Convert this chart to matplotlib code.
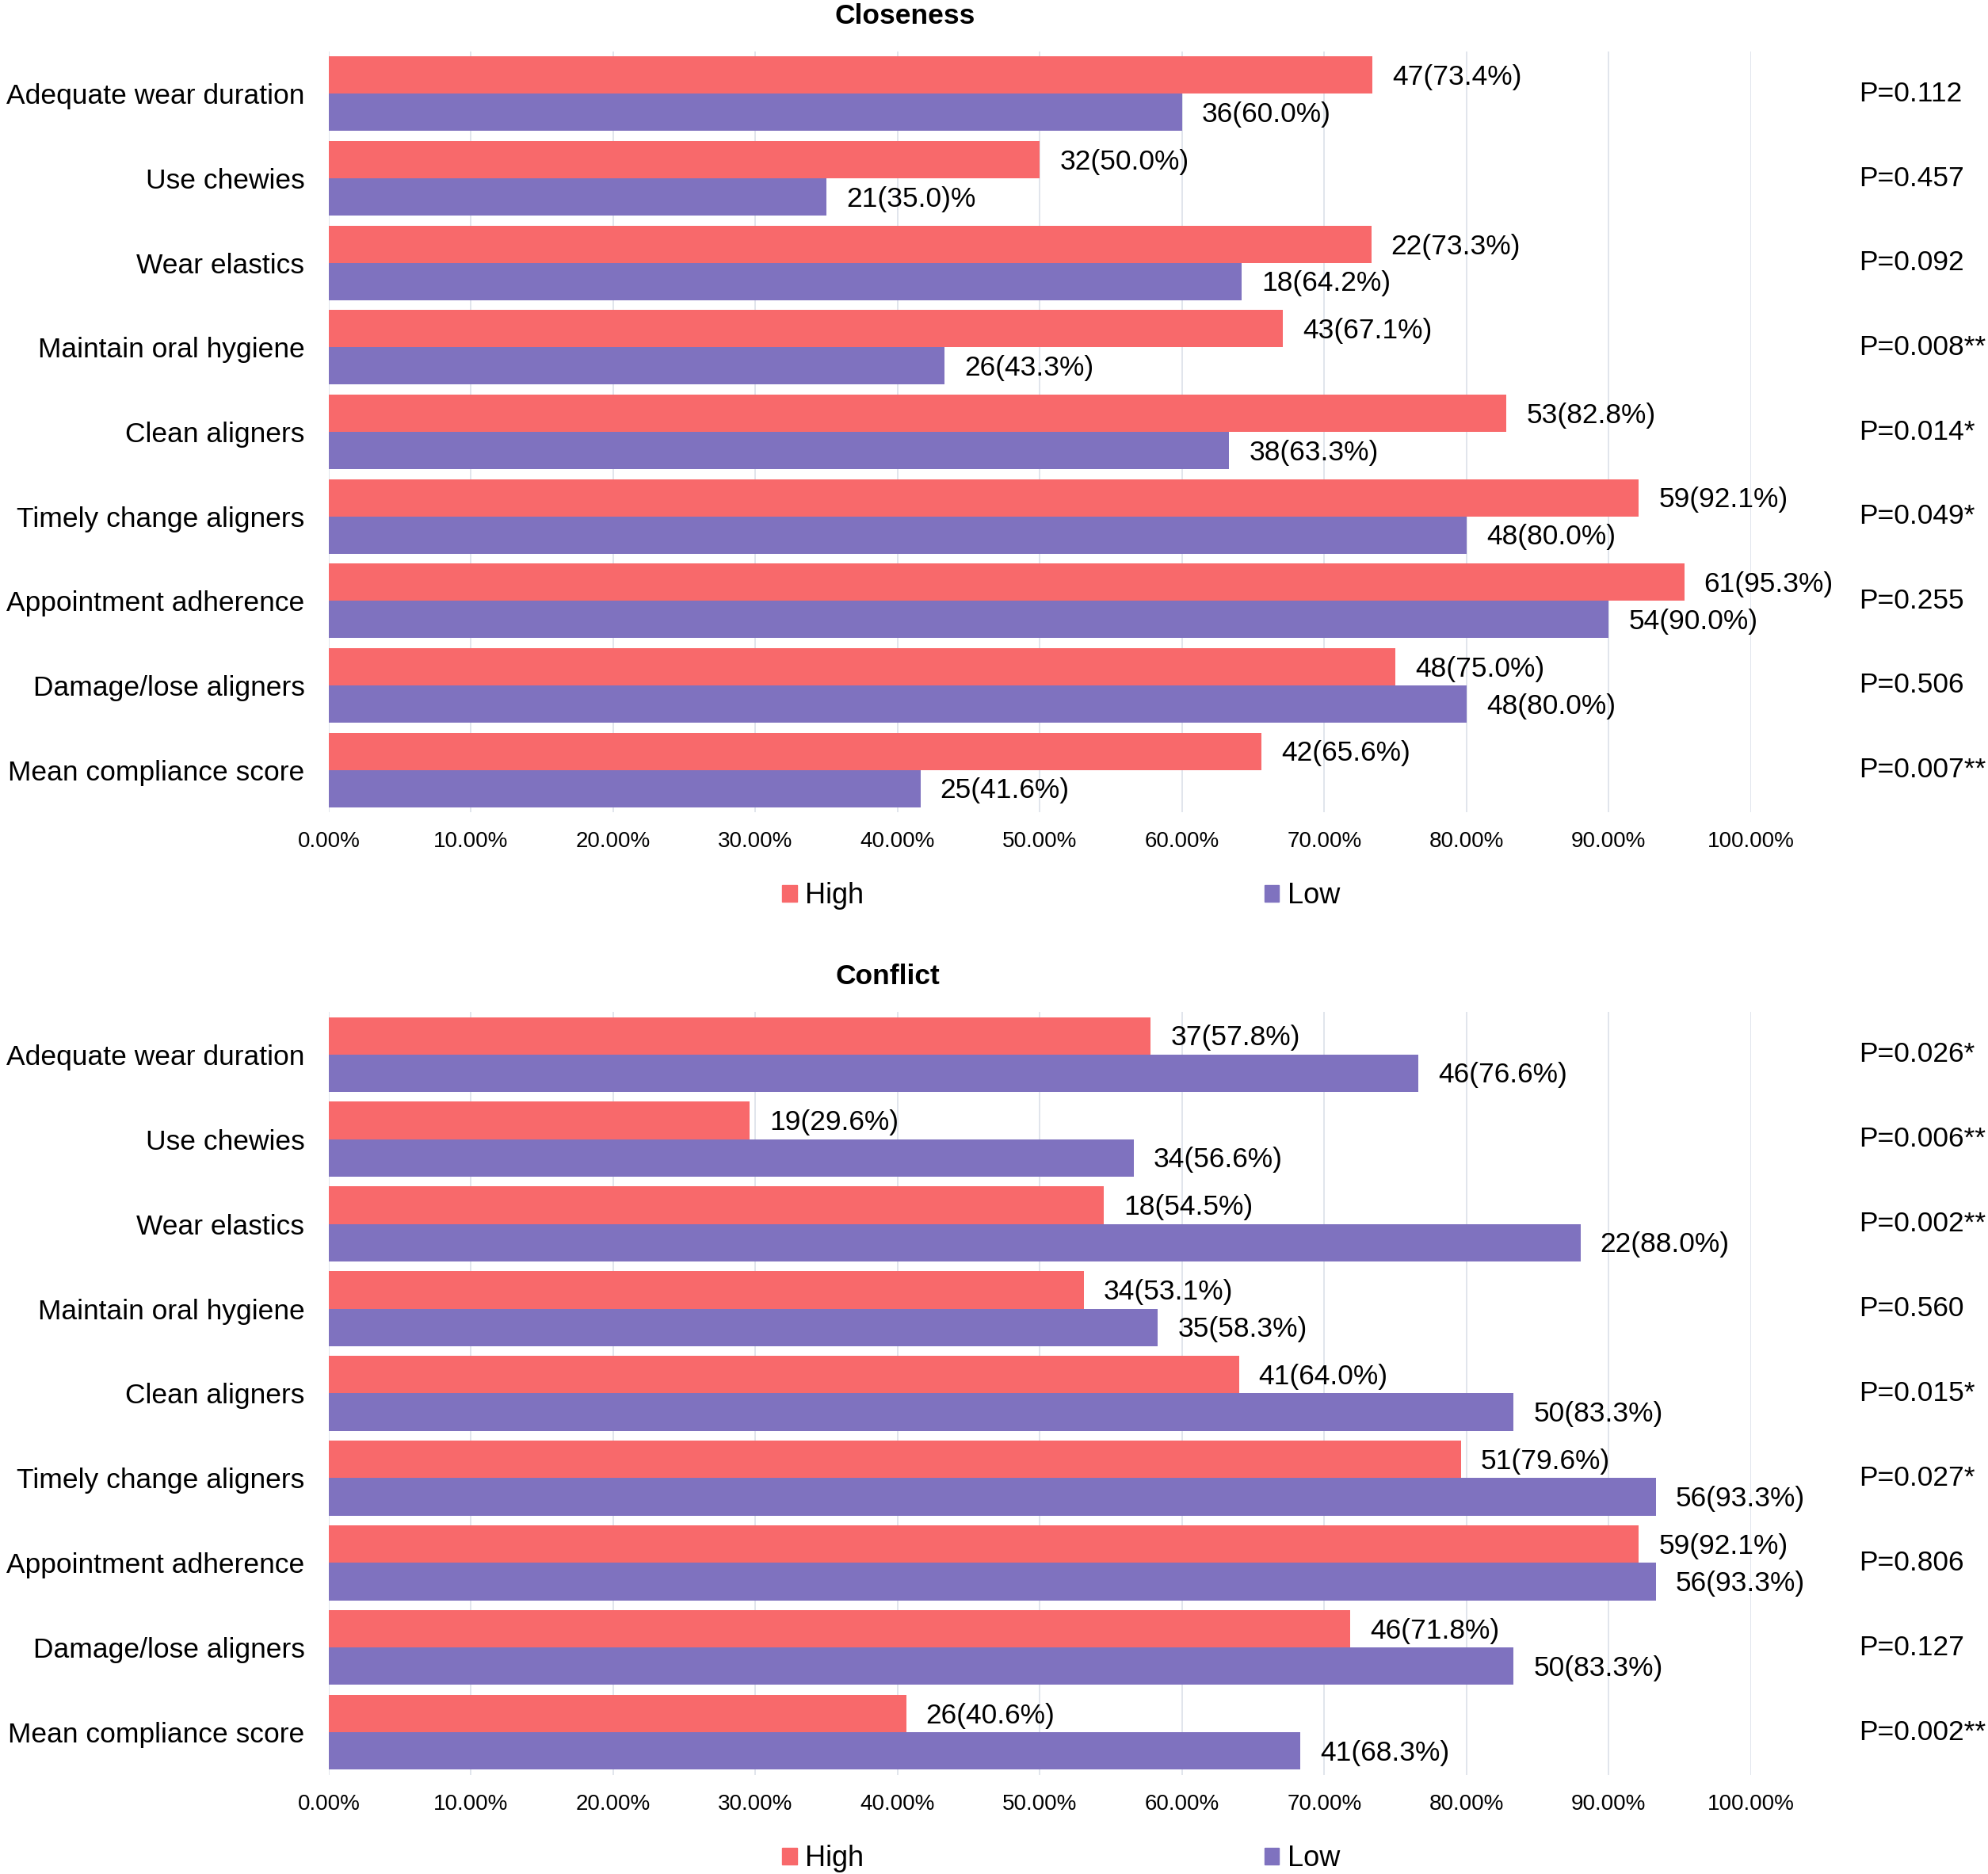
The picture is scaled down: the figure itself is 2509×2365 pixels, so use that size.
import matplotlib
matplotlib.use("Agg")
import matplotlib.pyplot as plt
from matplotlib.patches import Patch
import numpy as np

plt.rcParams['font.family'] = ['Liberation Sans', 'DejaVu Sans']

categories = ["Adequate wear duration", "Use chewies", "Wear elastics",
              "Maintain oral hygiene", "Clean aligners", "Timely change aligners",
              "Appointment adherence", "Damage/lose aligners", "Mean compliance score"]

# Closeness
clo_high_n = [47, 32, 22, 43, 53, 59, 61, 48, 42]
clo_high_pct = [73.4, 50.0, 73.3, 67.1, 82.8, 92.1, 95.3, 75.0, 65.6]
clo_low_n = [36, 21, 18, 26, 38, 48, 54, 48, 25]
clo_low_pct = [60.0, 35.0, 64.2, 43.3, 63.3, 80.0, 90.0, 80.0, 41.6]
clo_p = ["P=0.112", "P=0.457", "P=0.092", "P=0.008**", "P=0.014*",
         "P=0.049*", "P=0.255", "P=0.506", "P=0.007**"]

# Conflict
con_high_n = [37, 19, 18, 34, 41, 51, 59, 46, 26]
con_high_pct = [57.8, 29.6, 54.5, 53.1, 64.0, 79.6, 92.1, 71.8, 40.6]
con_low_n = [46, 34, 22, 35, 50, 56, 56, 50, 41]
con_low_pct = [76.6, 56.6, 88.0, 58.3, 83.3, 93.3, 93.3, 83.3, 68.3]
con_p = ["P=0.026*", "P=0.006**", "P=0.002**", "P=0.560", "P=0.015*",
         "P=0.027*", "P=0.806", "P=0.127", "P=0.002**"]

xticks = np.arange(0, 1.01, 0.1)

RED = '#F8696B'
PURPLE = '#7F72BF'
GRID = '#DCE0E9'
FS = 25.5


def fmt(n, pct):
    return f"{n}({pct:.1f}%)"


def draw_panel(ax, title, title_x, high_n, high_pct, low_n, low_pct, pvals, low_fix=None):
    y = np.arange(len(categories))
    h = 0.44
    hp = np.array(high_pct) / 100
    lp = np.array(low_pct) / 100
    ax.barh(y - h / 2, hp, height=h, color=RED, zorder=3)
    ax.barh(y + h / 2, lp, height=h, color=PURPLE, zorder=3)

    for i in range(len(categories)):
        ax.annotate(fmt(high_n[i], high_pct[i]), (hp[i], y[i] - h / 2),
                    xytext=(18, -2), textcoords='offset points',
                    va='center', ha='left', fontsize=FS, zorder=4)
        lab = fmt(low_n[i], low_pct[i])
        if low_fix and i in low_fix:
            lab = low_fix[i]
        ax.annotate(lab, (lp[i], y[i] + h / 2),
                    xytext=(18, -2), textcoords='offset points',
                    va='center', ha='left', fontsize=FS, zorder=4)
        ax.text(1.076, y[i], pvals[i], transform=ax.get_yaxis_transform(),
                va='center', ha='left', fontsize=FS, clip_on=False)

    ax.set_ylim(len(categories) - 0.5, -0.5)
    ax.set_xlim(0, 1.0)
    ax.set_yticks(y)
    ax.set_yticklabels(categories, fontsize=FS)
    ax.set_xticks(xticks)
    ax.set_xticklabels([f"{v * 100:.2f}%" for v in xticks], fontsize=20)
    ax.tick_params(axis='both', length=0)
    ax.tick_params(axis='y', pad=22)
    ax.tick_params(axis='x', pad=17)
    for s in ax.spines.values():
        s.set_visible(False)
    ax.grid(axis='x', color=GRID, linewidth=1.2, zorder=0)
    ax.set_axisbelow(True)
    ax.set_title(title, fontsize=FS, fontweight='bold', x=title_x, pad=25)

    handles = [Patch(color=RED, label='High'), Patch(color=PURPLE, label='Low')]
    ax.legend(handles=handles, loc='center', bbox_to_anchor=(0.515, -0.11),
              ncol=2, frameon=False, fontsize=26, handlelength=0.5,
              handleheight=0.5, handletextpad=0.3, columnspacing=14)


fig = plt.figure(figsize=(25.09, 23.65), dpi=100)
ax1 = fig.add_axes([0.1654, 0.5666, 0.7154, 0.4059])
ax2 = fig.add_axes([0.1654, 0.0529, 0.7154, 0.4071])

draw_panel(ax1, "Closeness", 0.405, clo_high_n, clo_high_pct, clo_low_n, clo_low_pct,
           clo_p, low_fix={1: "21(35.0)%"})
draw_panel(ax2, "Conflict", 0.393, con_high_n, con_high_pct, con_low_n, con_low_pct, con_p)

fig.savefig("out.png", dpi=100, facecolor='white')
